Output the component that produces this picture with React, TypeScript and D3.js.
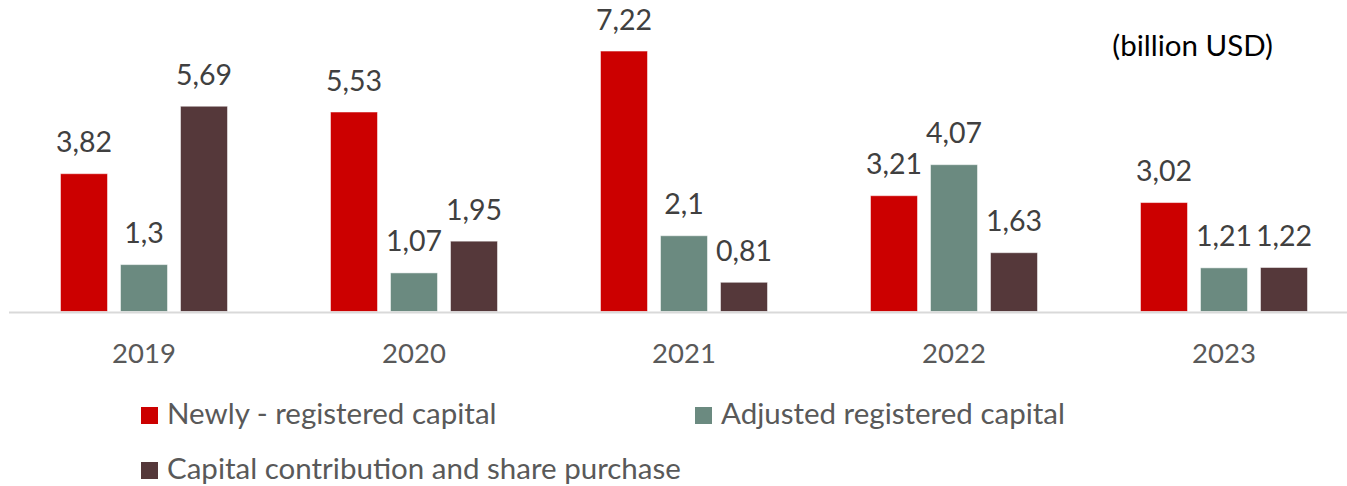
import React from "react";
import * as d3 from "d3";

const years = ["2019", "2020", "2021", "2022", "2023"];
const seriesNames = [
  "Newly - registered capital",
  "Adjusted registered capital",
  "Capital contribution and share purchase",
];
const newlyRegistered = [3.82, 5.53, 7.22, 3.21, 3.02];
const adjustedRegistered = [1.3, 1.07, 2.1, 4.07, 1.21];
const contributionShare = [5.69, 1.95, 0.81, 1.63, 1.22];
const seriesValues = [newlyRegistered, adjustedRegistered, contributionShare];
const colors = ["#cc0000", "#6b8a80", "#55383a"];
const unitLabel = "(billion USD)";

const W = 1347;
const H = 486;
const FONT = "Lato, 'Open Sans', sans-serif";

const fmt = (v: number) => String(v).replace(".", ",");

export default function App() {
  const x0 = d3
    .scaleBand<string>()
    .domain(years)
    .range([9, 1359])
    .paddingInner(1 / 3)
    .paddingOuter(1 / 6);
  const x1 = d3
    .scaleBand<number>()
    .domain([0, 1, 2])
    .range([0, x0.bandwidth()])
    .paddingInner(13 / 60)
    .paddingOuter(13 / 120);
  const y = d3.scaleLinear().domain([0, 8]).range([311.5, 22.9]);

  const legendItems = [
    { i: 0, x: 141, y: 407 },
    { i: 1, x: 695, y: 407 },
    { i: 2, x: 141, y: 462 },
  ];

  return (
    <svg
      width={W}
      height={H}
      style={{ position: "absolute", left: 0, top: 0, background: "#fff" }}
      fontFamily={FONT}
    >
      {years.map((yr, gi) => (
        <g key={yr} transform={`translate(${x0(yr)},0)`}>
          {seriesValues.map((vals, si) => {
            const v = vals[gi];
            const bx = x1(si)!;
            const bw = x1.bandwidth();
            return (
              <g key={si}>
                <rect
                  x={bx}
                  y={y(v)}
                  width={bw}
                  height={y(0) - y(v)}
                  fill={colors[si]}
                  stroke="#ffffff"
                  strokeOpacity={0.5}
                  strokeWidth={1}
                />
                <text
                  x={bx + bw / 2}
                  y={y(v) - 21.5}
                  textAnchor="middle"
                  fontSize={28.5}
                  fill="#404040"
                >
                  {fmt(v)}
                </text>
              </g>
            );
          })}
          <text
            x={x0.bandwidth() / 2}
            y={363}
            textAnchor="middle"
            fontSize={27.5}
            fill="#595959"
          >
            {yr}
          </text>
        </g>
      ))}
      <line x1={9} x2={W} y1={312.5} y2={312.5} stroke="#d9d9d9" strokeWidth={2} />
      <text x={1273} y={56} textAnchor="end" fontSize={29.5} fill="#000000">
        {unitLabel}
      </text>
      {legendItems.map((li) => (
        <g key={li.i}>
          <rect x={li.x} y={li.y} width={17} height={17} fill={colors[li.i]} />
          <text x={li.x + 26} y={li.y + 17} fontSize={29.5} fill="#595959">
            {seriesNames[li.i]}
          </text>
        </g>
      ))}
    </svg>
  );
}
